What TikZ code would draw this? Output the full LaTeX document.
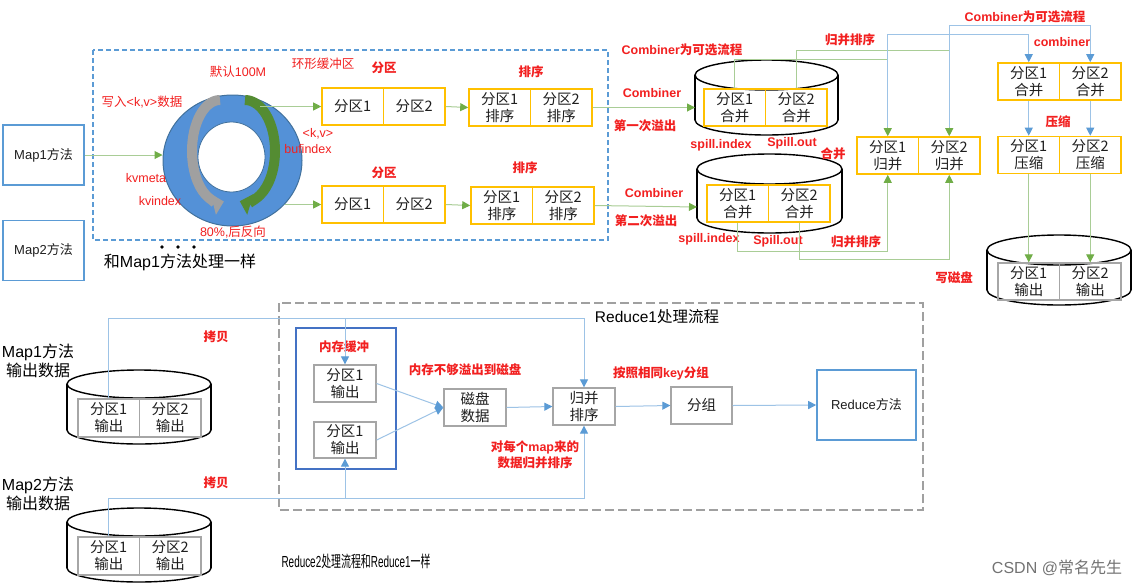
\documentclass[tikz,border=0pt]{standalone}
\usepackage{fontspec}
\usepackage{graphicx}
\setmainfont{Liberation Sans}
\newfontfamily\cjk{Noto Sans CJK SC}
\usetikzlibrary{arrows.meta,shapes.geometric}
\definecolor{redlbl}{RGB}{242,32,32}
\definecolor{ybox}{RGB}{255,192,0}
\definecolor{lgreen}{RGB}{169,205,150}
\definecolor{dgreen}{RGB}{112,173,71}
\definecolor{lblue}{RGB}{157,195,230}
\definecolor{dblue}{RGB}{91,155,213}
\definecolor{mblue}{RGB}{68,114,196}
\definecolor{ringblue}{RGB}{84,145,215}
\definecolor{ringdark}{RGB}{65,113,156}
\definecolor{arrgray}{RGB}{160,160,160}
\definecolor{arrgreen}{RGB}{84,140,50}
\definecolor{gbox}{RGB}{166,166,166}
\definecolor{dashgray}{RGB}{160,160,160}
\definecolor{txt}{RGB}{30,30,30}
\newcommand\zh[1]{{\cjk #1}}
\newcommand\mycyl[5]{%
  \filldraw[cyl] (#1,#5) ellipse [x radius=#3pt, y radius=#4pt];
  \fill[white] (#1-#3,#2) rectangle (#1+#3,#5);
  \draw[cyl] (#1-#3,#2) -- (#1-#3,#5) (#1+#3,#2) -- (#1+#3,#5);
  \filldraw[cyl] (#1,#2) ellipse [x radius=#3pt, y radius=#4pt];}
\begin{document}
\begin{tikzpicture}[x=1pt,y=-1pt,
  every node/.style={inner sep=0pt, text=txt},
  cell/.style={draw=ybox, line width=1.6pt, minimum width=61.5pt, minimum height=37pt, align=center, font=\cjk\fontsize{14.5}{17}\selectfont},
  gcell/.style={cell, draw=gbox, line width=1.3pt},
  rbox/.style={draw=gbox, line width=1.3pt, minimum width=62pt, minimum height=37pt, align=center, font=\cjk\fontsize{14.5}{17}\selectfont},
  lbl/.style={text=redlbl, font=\bfseries\fontsize{12.5}{16}\selectfont, align=center},
  rlbl/.style={text=redlbl, font=\fontsize{12.5}{15}\selectfont},
  garrow/.style={draw=lgreen, line width=1pt, -{Triangle[length=8pt,width=8pt,color=dgreen]}},
  barrow/.style={draw=lblue, line width=1pt, -{Triangle[length=8pt,width=8pt,color=dblue]}},
  cyl/.style={draw=black, line width=1.4pt, fill=white},
  mapbox/.style={draw=dblue, line width=1.5pt, minimum width=81pt, minimum height=60pt, font=\fontsize{13}{15}\selectfont},
  big/.style={font=\fontsize{16}{19}\selectfont, align=center},
]
\fill[white] (0,0) rectangle (1133,587);
\useasboundingbox (0,0) rectangle (1133,587);

% ---------------- top: map side ----------------
\node[mapbox] (map1) at (43.5,155) {Map1\zh{方法}};
\node[mapbox] (map2) at (43.5,250.5) {Map2\zh{方法}};
\draw[dblue, line width=1.2pt, dash pattern=on 5pt off 3pt] (93,50) rectangle (608,240);

\node[ellipse, draw=ringdark, line width=1pt, fill=ringblue, minimum width=139pt, minimum height=131pt] (ring) at (232.5,160.5) {};
\node[ellipse, draw=ringdark, line width=0.8pt, fill=white, minimum width=67pt, minimum height=70pt] (hole) at (231.5,157) {};
\draw[line width=10pt, draw=arrgray, -{Triangle[length=11pt,width=21pt,color=arrgray]}] (220,100) arc[start angle=90, end angle=278, x radius=28pt, y radius=51pt];
\draw[line width=10pt, draw=arrgreen, -{Triangle[length=11pt,width=21pt,color=arrgreen]}] (245,100) arc[start angle=90, end angle=-100, x radius=30pt, y radius=51pt];

\draw[garrow] (map1.east) -- (map1.east -| ring.west);
\coordinate (r1) at (260,106.5);
\coordinate (r2) at (285,204.5);

\node[rlbl] (l100) at (238,72) {\zh{默认}100M};
\node[rlbl] (lwrite) at (142,102) {\zh{写入}<k,v>\zh{数据}};
\node[rlbl] (lmeta) at (146,178) {kvmeta};
\node[rlbl] (lkvi) at (160,201) {kvindex};
\node[rlbl] (l80) at (233,232) {80\%,\zh{后反向}};
\node[rlbl] (lkv) at (318,134) {<k,v>};
\node[rlbl] (lbuf) at (308,149) {bufindex};
\node[rlbl] (lring) at (323,64) {\zh{环形缓冲区}};
\node[lbl] (lp1) at (384,68) {\zh{分区}};
\node[lbl] (lp2) at (384,173) {\zh{分区}};
\node[lbl] (ls1) at (531,72) {\zh{排序}};
\node[lbl] (ls2) at (525,168) {\zh{排序}};

\node[cell] (A1) at (352.75,106.5) {分区1};
\node[cell] (A2) at (414.25,106.5) {分区2};
\node[cell] (B1) at (499.75,107.5) {分区1\\排序};
\node[cell] (B2) at (561.25,107.5) {分区2\\排序};
\node[cell] (C1) at (352.75,204.5) {分区1};
\node[cell] (C2) at (414.25,204.5) {分区2};
\node[cell] (D1) at (501.75,205.5) {分区1\\排序};
\node[cell] (D2) at (563.25,205.5) {分区2\\排序};

\draw[garrow] (r1) -- (A1.west);
\draw[garrow] (r2) -- (C1.west);
\draw[garrow] (A2.east) -- (B1.west);
\draw[garrow] (C2.east) -- (D1.west);

\fill (162,247) circle[radius=1.8pt];
\fill (178,247) circle[radius=1.8pt];
\fill (194,247) circle[radius=1.8pt];
\node[big, text=black] (same) at (180,262) {\zh{和}Map1\zh{方法处理一样}};

% ---------------- spill cylinders ----------------
\mycyl{766.5}{75}{71.5}{15}{120}
\mycyl{769.5}{169}{72.5}{15}{218}
\coordinate (cylA) at (695,107.5);
\coordinate (cylB) at (697,207);
\node[cell] (E1) at (734.75,107.5) {分区1\\合并};
\node[cell] (E2) at (796.25,107.5) {分区2\\合并};
\node[cell] (F1) at (737.75,203.5) {分区1\\合并};
\node[cell] (F2) at (799.25,203.5) {分区2\\合并};
\draw[garrow] (B2.east) -- (cylA);
\draw[garrow] (D2.east) -- (cylB);

\node[lbl] (lcomb) at (682,50) {Combiner\zh{为可选流程}};
\node[lbl] (lc1) at (652,93) {Combiner};
\node[lbl] (lsp1) at (645,126) {\zh{第一次溢出}};
\node[lbl] (lidx1) at (721,145) {spill.index};
\node[lbl] (lout1) at (792,143) {Spill.out};
\node[lbl] (lhb) at (833,154) {\zh{合并}};
\node[lbl] (lc2) at (654,193) {Combiner};
\node[lbl] (lsp2) at (646,221) {\zh{第二次溢出}};
\node[lbl] (lidx2) at (709,239) {spill.index};
\node[lbl] (lout2) at (778,241) {Spill.out};
\node[lbl] (lgb1) at (850,40) {\zh{归并排序}};
\node[lbl] (lgb2) at (856,242) {\zh{归并排序}};

% ---------------- merge / combine / compress ----------------
\node[cell] (G1) at (887.75,155.5) {分区1\\归并};
\node[cell] (G2) at (949.25,155.5) {分区2\\归并};
\node[cell] (H1) at (1028.75,81.5) {分区1\\合并};
\node[cell] (H2) at (1090.25,81.5) {分区2\\合并};
\node[cell] (I1) at (1028.75,155) {分区1\\压缩};
\node[cell] (I2) at (1090.25,155) {分区2\\压缩};

\draw[garrow] (E1.north) -- ++(0,-29) -| (G1.north);
\draw[garrow] (E2.north) -- ++(0,-37.5) -| (G2.north);
\draw[garrow] (F1.south) -- ++(0,29) -| (G1.south);
\draw[garrow] (F2.south) -- ++(0,37) -| (G2.south);
\draw[barrow, shorten <=9pt] (G1.north) -- ++(0,-102) -| (H1.north);
\draw[barrow, shorten <=9pt] (G2.north) -- ++(0,-111) -| (H2.north);
\draw[barrow] (H1.south) -- (I1.north);
\draw[barrow] (H2.south) -- (I2.north);

\mycyl{1059}{250}{72}{15}{290}
\node[gcell] (J1) at (1028.75,281.5) {分区1\\输出};
\node[gcell] (J2) at (1090.25,281.5) {分区2\\输出};
\draw[garrow] (I1.south) -- (J1.north);
\draw[garrow] (I2.south) -- (J2.north);

\node[lbl] (lcomb2) at (1025,17) {Combiner\zh{为可选流程}};
\node[lbl] (lcb) at (1062,42) {combiner};
\node[lbl] (lys) at (1058,122) {\zh{压缩}};
\node[lbl] (lxcp) at (954,278) {\zh{写磁盘}};

% ---------------- bottom: reduce side ----------------
\node[big, text=black] (m1out) at (38,361) {Map1\zh{方法}\\\zh{输出数据}};
\node[big, text=black] (m2out) at (38,494) {Map2\zh{方法}\\\zh{输出数据}};
\mycyl{139}{384}{72}{14}{430}
\mycyl{139}{522}{72}{14}{568}
\node[gcell, minimum height=38pt] (K1) at (108.75,418) {分区1\\输出};
\node[gcell, minimum height=38pt] (K2) at (170.25,418) {分区2\\输出};
\node[gcell, minimum height=38pt] (L1) at (108.75,556) {分区1\\输出};
\node[gcell, minimum height=38pt] (L2) at (170.25,556) {分区2\\输出};
\node[lbl] (lcp1) at (216,337) {\zh{拷贝}};
\node[lbl] (lcp2) at (216,483) {\zh{拷贝}};

\draw[dashgray, line width=2.6pt, dash pattern=on 9pt off 4pt] (279,303) rectangle (923,510);
\node[font=\fontsize{15.5}{18}\selectfont, text=black] (lred1) at (657,317) {Reduce1\zh{处理流程}};

\draw[mblue, line width=1.6pt] (296,328) rectangle (396,469);
\node[lbl] (lmem) at (344,347) {\zh{内存缓冲}};
\node[rbox] (M1) at (345,383.5) {分区1\\输出};
\node[rbox, minimum height=36pt] (M2) at (345,440) {分区1\\输出};
\node[rbox] (disk) at (475,407.5) {磁盘\\数据};
\node[rbox] (merge) at (584,406.5) {归并\\排序};
\node[rbox, minimum width=61pt] (group) at (701.5,405.5) {分组};
\node[draw=dblue, line width=1.6pt, minimum width=99pt, minimum height=70pt, font=\fontsize{13}{15}\selectfont] (reduce) at (866.5,405) {Reduce\zh{方法}};

\node[lbl] (lspill) at (465,370) {\zh{内存不够溢出到磁盘}};
\node[lbl] (lper) at (535,455) {\zh{对每个}map\zh{来的}\\\zh{数据归并排序}};
\node[lbl] (lkey) at (661,373) {\zh{按照相同}key\zh{分组}};

\draw[barrow] (M1.east) -- (disk.west);
\draw[barrow] (M2.east) -- (disk.west);
\draw[barrow] (disk.east) -- (merge.west);
\draw[barrow] (merge.east) -- (group.west);
\draw[barrow] (group.east) -- (reduce.west);

\draw[barrow] (K1.north) -- ++(0,-80) coordinate (t1) -| (merge.north);
\draw[barrow] (t1 -| M1.north) -- (M1.north);
\draw[barrow] (L1.north) -- ++(0,-38) coordinate (t2) -| (merge.south);
\draw[barrow] (t2 -| M2.south) -- (M2.south);

\node[text=black] (lred2) at (356,561) {\scalebox{0.62}[1]{\fontsize{16}{19}\selectfont Reduce2\zh{处理流程和}Reduce1\zh{一样}}};
\node[text=black!55, font=\fontsize{16}{18}\selectfont] (wm) at (1057,568) {CSDN @\zh{常名先生}};
\end{tikzpicture}
\end{document}
